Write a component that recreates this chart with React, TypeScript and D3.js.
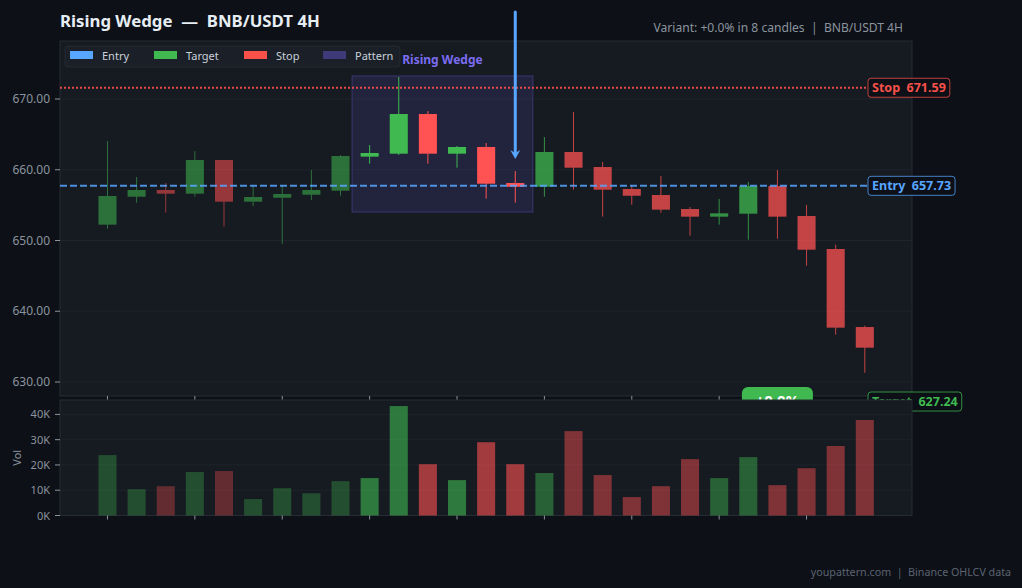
import { useRef, useEffect } from 'react';
import * as d3 from 'd3';

const WIDTH = 1022;
const HEIGHT = 588;

// Plot areas (pixels)
const MAIN = { left: 60, right: 912, top: 41, bottom: 396 };
const VOL = { top: 400, bottom: 515.5 };

const FONT = '"Noto Sans", "Open Sans", sans-serif';

const BG = '#0d1017';
const PANEL = '#161a21';
const PANEL_BORDER = '#262b34';
const GRID = '#1f242c';
const AXIS_TEXT = '#8b949e';

const GREEN = '#3fb950';
const RED = '#ff5252';
const BLUE = '#58a6ff';
const STOP_RED = '#f85149';
const PATTERN = '#3d3a7a';

// ── Data (BNB/USDT 4H candles) ─────────────────────────────────────────
const OPEN = [
  652.24, 656.19, 657.14, 656.62, 661.38, 655.49, 656.05, 656.47, 657.04,
  661.85, 662.27, 667.88, 662.27, 663.22, 658.13,
  657.6, 662.51, 660.39, 657.28, 656.43, 654.45, 653.37, 653.79, 657.7,
  653.46, 648.8, 637.77,
];
const HIGH = [
  664.06, 658.98, 658.13, 662.65, 661.4, 657.7, 657.7, 659.96, 662.08,
  663.5, 673.11, 668.3, 663.36, 663.78, 659.82,
  664.63, 668.16, 661.1, 657.84, 659.12, 654.73, 655.87, 658.27, 659.96,
  655.02, 649.41, 637.96,
];
const LOW = [
  651.67, 655.34, 653.93, 656.19, 651.95, 654.88, 649.55, 655.72, 656.33,
  660.86, 662.08, 660.86, 660.29, 655.91, 655.34,
  656.19, 657.18, 653.37, 655.06, 653.93, 650.68, 652.24, 650.11, 650.25,
  646.44, 636.69, 631.31,
];
const CLOSE = [
  656.29, 657.14, 656.62, 661.38, 655.49, 656.15, 656.57, 657.14, 661.94,
  662.37, 667.88, 662.27, 663.22, 658.03, 657.6,
  662.51, 660.29, 657.18, 656.33, 654.36, 653.37, 653.84, 657.7, 653.37,
  648.7, 637.68, 634.85,
];
const VOLUME = [
  23900, 10400, 11600, 17200, 17600, 6500, 10800, 8800, 13600,
  14800, 43300, 20300, 14000, 29000, 20300,
  16800, 33400, 16000, 7300, 11600, 22300, 14800, 23100, 12000,
  18700, 27500, 37800,
];

const PATTERN_START = 9;
const PATTERN_END = 14;
const PATTERN_TOP = 673.25;
const PATTERN_BOTTOM = 654.03;
const PATTERN_NAME = 'Rising Wedge';

const ENTRY = 657.73;
const STOP = 671.59;
const TARGET = 627.24;
const BADGE_CANDLE = 23;
const BADGE_TEXT = '+0.0%';

const PRICE_DOMAIN: [number, number] = [628.02, 678.2];
const VOL_MAX = 45700;
const X_DOMAIN: [number, number] = [-1.63, 27.62];

const TITLE = 'Rising Wedge  —  BNB/USDT 4H';
const SUBTITLE = 'Variant: +0.0% in 8 candles  |  BNB/USDT 4H';
const FOOTER = 'youpattern.com  |  Binance OHLCV data';

const LEGEND = [
  { label: 'Entry', color: BLUE },
  { label: 'Target', color: GREEN },
  { label: 'Stop', color: STOP_RED },
  { label: 'Pattern', color: PATTERN },
];

// Pre-pattern candles are dimmed, pattern candles full, later candles in between.
function phaseOpacity(i: number): number {
  if (i < PATTERN_START) return 0.55;
  if (i <= PATTERN_END) return 1;
  return 0.75;
}

export default function App() {
  const svgRef = useRef<SVGSVGElement>(null);

  useEffect(() => {
    if (!svgRef.current) return;
    const svg = d3.select(svgRef.current);
    svg.selectAll('*').remove();

    const idx = d3.range(OPEN.length);

    // ── Scales ──────────────────────────────────────────────────────────
    const x = d3.scaleLinear().domain(X_DOMAIN).range([MAIN.left, MAIN.right]);
    const y = d3.scaleLinear().domain(PRICE_DOMAIN).range([MAIN.bottom, MAIN.top]);
    const v = d3.scaleLinear().domain([0, VOL_MAX]).range([VOL.bottom, VOL.top]);
    const step = x(1) - x(0);
    const bodyW = step * 0.62;

    // ── Background ──────────────────────────────────────────────────────
    svg.append('rect').attr('width', WIDTH).attr('height', HEIGHT).attr('fill', BG);

    svg.append('text')
      .attr('x', MAIN.left).attr('y', 27)
      .attr('fill', '#e6edf3')
      .attr('font-size', '16.8px').attr('font-weight', 700)
      .attr('font-family', FONT)
      .style('white-space', 'pre')
      .text(TITLE);

    svg.append('text')
      .attr('x', 903).attr('y', 32)
      .attr('text-anchor', 'end')
      .attr('fill', AXIS_TEXT)
      .attr('font-size', '12.1px')
      .attr('font-family', FONT)
      .style('white-space', 'pre')
      .text(SUBTITLE);

    // ── Main panel ──────────────────────────────────────────────────────
    svg.append('rect')
      .attr('x', MAIN.left).attr('y', MAIN.top)
      .attr('width', MAIN.right - MAIN.left).attr('height', MAIN.bottom - MAIN.top)
      .attr('fill', PANEL).attr('stroke', PANEL_BORDER);

    const priceTicks = y.ticks(5);
    svg.append('g')
      .selectAll('line')
      .data(priceTicks)
      .join('line')
      .attr('x1', MAIN.left).attr('x2', MAIN.right)
      .attr('y1', (d) => y(d)).attr('y2', (d) => y(d))
      .attr('stroke', GRID);

    // Pattern zone
    svg.append('rect')
      .attr('x', x(PATTERN_START - 0.6))
      .attr('y', y(PATTERN_TOP))
      .attr('width', x(PATTERN_END + 0.6) - x(PATTERN_START - 0.6))
      .attr('height', y(PATTERN_BOTTOM) - y(PATTERN_TOP))
      .attr('fill', PATTERN).attr('fill-opacity', 0.3)
      .attr('stroke', PATTERN).attr('stroke-opacity', 0.6).attr('stroke-width', 1.5);

    svg.append('text')
      .attr('x', (x(PATTERN_START - 0.6) + x(PATTERN_END + 0.6)) / 2)
      .attr('y', y(PATTERN_TOP) - 12)
      .attr('text-anchor', 'middle')
      .attr('fill', '#7b6cf2')
      .attr('font-size', '12px').attr('font-weight', 700)
      .attr('font-family', FONT)
      .text(PATTERN_NAME);

    // ── Candles ─────────────────────────────────────────────────────────
    const candles = svg.append('g')
      .selectAll('g')
      .data(idx)
      .join('g')
      .attr('opacity', (i) => phaseOpacity(i));

    candles.append('line')
      .attr('x1', (i) => x(i)).attr('x2', (i) => x(i))
      .attr('y1', (i) => y(HIGH[i])).attr('y2', (i) => y(LOW[i]))
      .attr('stroke', (i) => (CLOSE[i] >= OPEN[i] ? GREEN : RED))
      .attr('stroke-width', 1);

    candles.append('rect')
      .attr('x', (i) => x(i) - bodyW / 2)
      .attr('width', bodyW)
      .attr('y', (i) => y(Math.max(OPEN[i], CLOSE[i])))
      .attr('height', (i) => Math.max(1.5, Math.abs(y(OPEN[i]) - y(CLOSE[i]))))
      .attr('fill', (i) => (CLOSE[i] >= OPEN[i] ? GREEN : RED));

    // ── Level lines ─────────────────────────────────────────────────────
    const labelX = MAIN.right - 44;
    svg.append('line')
      .attr('x1', MAIN.left).attr('x2', labelX)
      .attr('y1', y(STOP)).attr('y2', y(STOP))
      .attr('stroke', STOP_RED).attr('stroke-opacity', 0.9)
      .attr('stroke-width', 2).attr('stroke-dasharray', '2,2');

    svg.append('line')
      .attr('x1', MAIN.left).attr('x2', labelX)
      .attr('y1', y(ENTRY)).attr('y2', y(ENTRY))
      .attr('stroke', BLUE).attr('stroke-opacity', 0.85)
      .attr('stroke-width', 2).attr('stroke-dasharray', '7,3');

    svg.append('line')
      .attr('x1', MAIN.left).attr('x2', labelX)
      .attr('y1', y(TARGET)).attr('y2', y(TARGET))
      .attr('stroke', GREEN).attr('stroke-opacity', 0.85)
      .attr('stroke-width', 1.6).attr('stroke-dasharray', '7,3');

    // ── Breakout arrow ──────────────────────────────────────────────────
    const ax = x(PATTERN_END);
    const tip = y(HIGH[PATTERN_END]) - 12;
    svg.append('line')
      .attr('x1', ax).attr('x2', ax)
      .attr('y1', 12).attr('y2', tip - 4)
      .attr('stroke', BLUE).attr('stroke-width', 3).attr('stroke-linecap', 'round');
    svg.append('path')
      .attr('d', `M${ax - 5},${tip - 9} L${ax},${tip - 6} L${ax + 5},${tip - 9} L${ax},${tip} Z`)
      .attr('fill', BLUE);

    // ── Price axis ──────────────────────────────────────────────────────
    const yAxis = svg.append('g');
    yAxis.selectAll('line')
      .data(priceTicks)
      .join('line')
      .attr('x1', MAIN.left - 5).attr('x2', MAIN.left)
      .attr('y1', (d) => y(d)).attr('y2', (d) => y(d))
      .attr('stroke', AXIS_TEXT);
    yAxis.selectAll('text')
      .data(priceTicks)
      .join('text')
      .attr('x', MAIN.left - 10)
      .attr('y', (d) => y(d) + 4)
      .attr('text-anchor', 'end')
      .attr('fill', AXIS_TEXT)
      .attr('font-size', '12px')
      .attr('font-family', FONT)
      .text((d) => d3.format('.2f')(d));

    const xTicks = d3.range(0, OPEN.length, 3);
    svg.append('g')
      .selectAll('line')
      .data(xTicks)
      .join('line')
      .attr('x1', (i) => x(i)).attr('x2', (i) => x(i))
      .attr('y1', MAIN.bottom).attr('y2', MAIN.bottom + 4)
      .attr('stroke', AXIS_TEXT);

    // ── Level labels ────────────────────────────────────────────────────
    const levelLabel = (text: string, price: number, color: string) => {
      const g = svg.append('g');
      const t = g.append('text')
        .attr('x', labelX + 4)
        .attr('y', y(price) + 4.5)
        .attr('fill', color)
        .attr('font-size', '12.5px').attr('font-weight', 700)
        .attr('font-family', FONT)
        .style('white-space', 'pre')
        .text(text);
      const w = (t.node() as SVGTextElement).getComputedTextLength();
      g.insert('rect', 'text')
        .attr('x', labelX).attr('y', y(price) - 9.5)
        .attr('width', w + 8).attr('height', 19).attr('rx', 3)
        .attr('fill', BG).attr('fill-opacity', 0.9)
        .attr('stroke', color).attr('stroke-opacity', 0.75);
    };
    levelLabel(`Stop  ${STOP.toFixed(2)}`, STOP, STOP_RED);
    levelLabel(`Entry  ${ENTRY.toFixed(2)}`, ENTRY, BLUE);
    levelLabel(`Target  ${TARGET.toFixed(2)}`, TARGET, GREEN);

    // Result badge
    const bx = x(BADGE_CANDLE);
    const by = y(TARGET) - 1.5;
    svg.append('rect')
      .attr('x', bx - 35.5).attr('y', by - 13)
      .attr('width', 71).attr('height', 26).attr('rx', 6)
      .attr('fill', GREEN);
    svg.append('text')
      .attr('x', bx).attr('y', by + 5.5)
      .attr('text-anchor', 'middle')
      .attr('fill', '#ffffff')
      .attr('font-size', '15px').attr('font-weight', 700)
      .attr('font-family', FONT)
      .text(BADGE_TEXT);

    // ── Volume panel ────────────────────────────────────────────────────
    svg.append('rect')
      .attr('x', MAIN.left).attr('y', VOL.top)
      .attr('width', MAIN.right - MAIN.left).attr('height', VOL.bottom - VOL.top)
      .attr('fill', PANEL).attr('stroke', PANEL_BORDER);

    const volTicks = v.ticks(5);
    svg.append('g')
      .selectAll('line')
      .data(volTicks.filter((d) => d > 0))
      .join('line')
      .attr('x1', MAIN.left).attr('x2', MAIN.right)
      .attr('y1', (d) => v(d)).attr('y2', (d) => v(d))
      .attr('stroke', GRID);

    svg.append('g')
      .selectAll('rect')
      .data(idx)
      .join('rect')
      .attr('x', (i) => x(i) - bodyW / 2)
      .attr('width', bodyW)
      .attr('y', (i) => v(VOLUME[i]))
      .attr('height', (i) => v(0) - v(VOLUME[i]))
      .attr('fill', (i) => (CLOSE[i] >= OPEN[i] ? GREEN : RED))
      .attr('opacity', (i) => phaseOpacity(i) * 0.6);

    const vAxis = svg.append('g');
    vAxis.selectAll('line')
      .data(volTicks)
      .join('line')
      .attr('x1', MAIN.left - 5).attr('x2', MAIN.left)
      .attr('y1', (d) => v(d)).attr('y2', (d) => v(d))
      .attr('stroke', AXIS_TEXT);
    vAxis.selectAll('text')
      .data(volTicks)
      .join('text')
      .attr('x', MAIN.left - 10)
      .attr('y', (d) => v(d) + 4)
      .attr('text-anchor', 'end')
      .attr('fill', AXIS_TEXT)
      .attr('font-size', '11px')
      .attr('font-family', FONT)
      .text((d) => `${d / 1000}K`);

    svg.append('text')
      .attr('transform', `translate(21,${(VOL.top + VOL.bottom) / 2}) rotate(-90)`)
      .attr('text-anchor', 'middle')
      .attr('fill', AXIS_TEXT)
      .attr('font-size', '11px')
      .attr('font-family', FONT)
      .text('Vol');

    svg.append('g')
      .selectAll('line')
      .data(xTicks)
      .join('line')
      .attr('x1', (i) => x(i)).attr('x2', (i) => x(i))
      .attr('y1', VOL.bottom).attr('y2', VOL.bottom + 4)
      .attr('stroke', AXIS_TEXT);

    // ── Legend ──────────────────────────────────────────────────────────
    const legend = svg.append('g').attr('transform', `translate(${MAIN.left + 5},${MAIN.top + 5})`);
    legend.append('rect')
      .attr('width', 335).attr('height', 21).attr('rx', 3)
      .attr('fill', '#1b2028').attr('stroke', '#252a33');
    const legendX = [5, 89, 179, 258];
    LEGEND.forEach((item, k) => {
      legend.append('rect')
        .attr('x', legendX[k]).attr('y', 5)
        .attr('width', 23).attr('height', 8)
        .attr('fill', item.color);
      legend.append('text')
        .attr('x', legendX[k] + 32).attr('y', 14)
        .attr('fill', '#c9d1d9')
        .attr('font-size', '11px')
        .attr('font-family', FONT)
        .text(item.label);
    });

    // ── Footer ──────────────────────────────────────────────────────────
    svg.append('text')
      .attr('x', 1011).attr('y', 576)
      .attr('text-anchor', 'end')
      .attr('fill', '#5c6370')
      .attr('font-size', '10.7px')
      .attr('font-family', FONT)
      .style('white-space', 'pre')
      .text(FOOTER);
  }, []);

  return (
    <svg
      ref={svgRef}
      width={WIDTH}
      height={HEIGHT}
      style={{ position: 'absolute', left: 0, top: 0, display: 'block' }}
    />
  );
}
